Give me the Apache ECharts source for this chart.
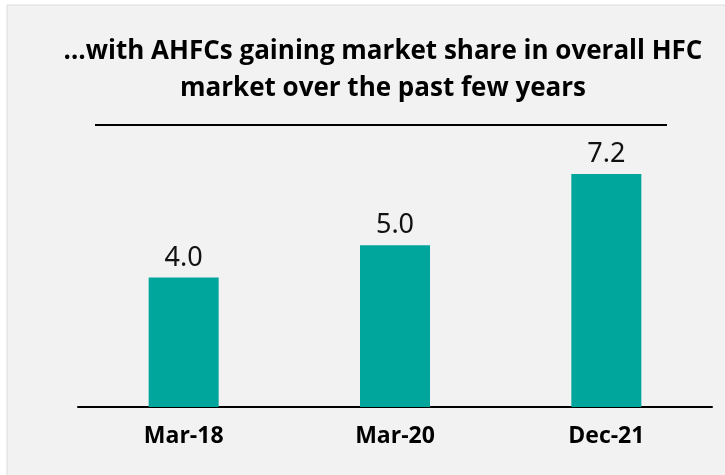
<!DOCTYPE html>
<html>
<head>
<meta charset="utf-8">
<script src="https://cdn.jsdelivr.net/npm/echarts@6/dist/echarts.min.js"></script>
<style>
  html, body { margin: 0; padding: 0; background: #ffffff; }
  #chart { width: 725px; height: 475px; }
</style>
</head>
<body>
<div id="chart"></div>
<script>
  // market share of AHFCs in overall HFC market (%)
  const categories = ['Mar-18', 'Mar-20', 'Dec-21']
  const shareValues = [4.0, 5.0, 7.2]
  const titleText = '…with AHFCs gaining market share in overall HFC\nmarket over the past few years'

  let chart = echarts.init(document.getElementById('chart'))
  chart.setOption({
    animation: false,
    backgroundColor: '#ffffff',
    graphic: [
      {
        type: 'rect',
        z: -10,
        shape: { x: 7, y: 5, width: 725, height: 475 },
        style: { fill: '#f2f2f2', stroke: '#dcdcdc', lineWidth: 1 }
      },
      {
        type: 'text',
        style: {
          text: titleText,
          x: 383,
          y: 33,
          align: 'center',
          verticalAlign: 'top',
          fontFamily: 'Open Sans',
          fontWeight: 'bold',
          fontSize: 26,
          lineHeight: 37,
          fill: '#000000'
        }
      },
      {
        type: 'line',
        shape: { x1: 95, y1: 125, x2: 667, y2: 125 },
        style: { stroke: '#000000', lineWidth: 2 }
      }
    ],
    grid: {
      left: 78,
      right: 13,
      top: 148,
      bottom: 68
    },
    xAxis: {
      type: 'category',
      data: categories,
      axisTick: { show: false },
      axisLine: { lineStyle: { color: '#000000', width: 2 } },
      axisLabel: {
        margin: 18,
        color: '#000000',
        fontFamily: 'Open Sans',
        fontWeight: 'bold',
        fontSize: 23
      }
    },
    yAxis: {
      type: 'value',
      min: 0,
      max: 8,
      show: false,
      splitLine: { show: false }
    },
    series: [
      {
        type: 'bar',
        data: shareValues,
        barWidth: 70,
        itemStyle: { color: '#00a69b' },
        label: {
          show: true,
          position: 'top',
          distance: 6,
          color: '#111111',
          fontFamily: 'Noto Sans',
          fontSize: 27,
          formatter: p => p.value.toFixed(1)
        }
      }
    ]
  })
</script>
</body>
</html>
